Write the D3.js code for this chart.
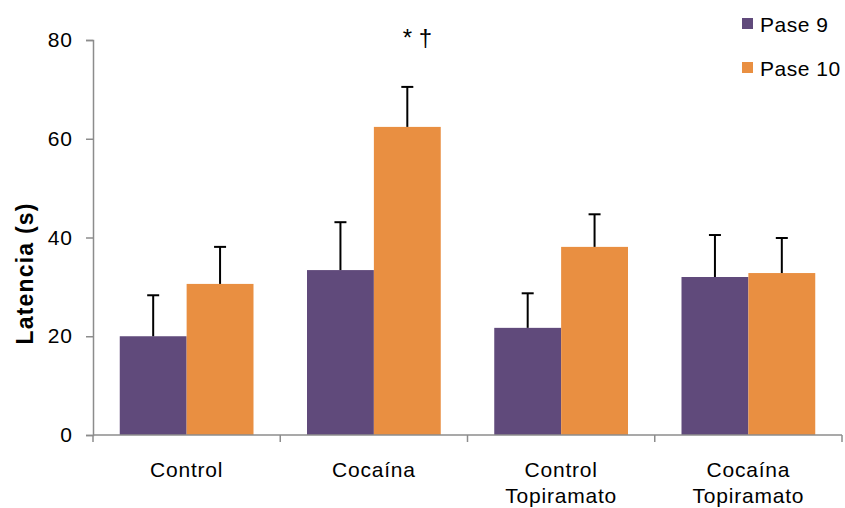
<!DOCTYPE html>
<html>
<head>
<meta charset="utf-8">
<script src="https://cdn.jsdelivr.net/npm/d3@7"></script>
<style>
  body { margin: 0; background: #fff; }
  text { font-family: "Liberation Sans", Arial, sans-serif; }
</style>
</head>
<body>
<div id="chart"></div>
<script>
const categories = [['Control'], ['Cocaína'], ['Control', 'Topiramato'], ['Cocaína', 'Topiramato']];
const seriesNames = ['Pase 9', 'Pase 10'];
const pase9 = [20.0, 33.4, 21.7, 32.0];
const pase9Err = [8.3, 9.7, 7.0, 8.5];
const pase10 = [30.6, 62.4, 38.1, 32.8];
const pase10Err = [7.5, 8.1, 6.6, 7.1];
const yTicks = [0, 20, 40, 60, 80];
const colors = ['#604a7b', '#e98f41'];

const width = 845, height = 508;
const margin = { top: 40, right: 3, bottom: 73, left: 93 };
const innerW = width - margin.left - margin.right;
const innerH = height - margin.top - margin.bottom;

const svg = d3.select('#chart').append('svg')
  .attr('width', width).attr('height', height);
const g = svg.append('g').attr('transform', `translate(${margin.left},${margin.top})`);

const keys = categories.map((c, i) => i);
const x = d3.scaleBand().domain(keys).range([0, innerW]);
const x1 = d3.scaleBand().domain([0, 1]).range([0, x.bandwidth()]).paddingOuter(0.4).paddingInner(0);
const y = d3.scaleLinear().domain([0, 80]).range([innerH, 0]);

const rows = [];
keys.forEach(i => {
  rows.push({ cat: i, s: 0, v: pase9[i], e: pase9Err[i] });
  rows.push({ cat: i, s: 1, v: pase10[i], e: pase10Err[i] });
});

// bars
g.selectAll('rect.bar').data(rows).enter().append('rect')
  .attr('class', 'bar')
  .attr('x', d => x(d.cat) + x1(d.s))
  .attr('y', d => y(d.v))
  .attr('width', x1.bandwidth())
  .attr('height', d => innerH - y(d.v))
  .attr('fill', d => colors[d.s]);

// error bars
const eb = g.selectAll('g.err').data(rows).enter().append('g').attr('class', 'err')
  .attr('stroke', '#000').attr('stroke-width', 2);
eb.append('line')
  .attr('x1', d => x(d.cat) + x1(d.s) + x1.bandwidth() / 2)
  .attr('x2', d => x(d.cat) + x1(d.s) + x1.bandwidth() / 2)
  .attr('y1', d => y(d.v)).attr('y2', d => y(d.v + d.e));
eb.append('line')
  .attr('x1', d => x(d.cat) + x1(d.s) + x1.bandwidth() / 2 - 6)
  .attr('x2', d => x(d.cat) + x1(d.s) + x1.bandwidth() / 2 + 6)
  .attr('y1', d => y(d.v + d.e)).attr('y2', d => y(d.v + d.e));

// y axis
const yAxis = g.append('g')
  .call(d3.axisLeft(y).tickValues(yTicks).tickSize(7).tickPadding(13));
yAxis.select('.domain').attr('stroke', '#8c8c8c').attr('stroke-width', 1.5);
yAxis.selectAll('.tick line').attr('stroke', '#8c8c8c').attr('stroke-width', 1.5);
yAxis.selectAll('.tick text').attr('font-size', 21).attr('letter-spacing', 1).attr('fill', '#000');

// x axis
const xAxis = g.append('g').attr('transform', `translate(0,${innerH})`);
xAxis.append('line').attr('x1', 0).attr('x2', innerW).attr('y1', 0).attr('y2', 0)
  .attr('stroke', '#8c8c8c').attr('stroke-width', 1.5);
xAxis.selectAll('line.tk').data(keys.concat([keys.length])).enter().append('line')
  .attr('class', 'tk')
  .attr('x1', d => d < keys.length ? x(d) : innerW)
  .attr('x2', d => d < keys.length ? x(d) : innerW)
  .attr('y1', 0).attr('y2', 7)
  .attr('stroke', '#8c8c8c').attr('stroke-width', 1.5);
const xl = xAxis.selectAll('text.cat').data(keys).enter().append('text')
  .attr('class', 'cat')
  .attr('x', d => x(d) + x.bandwidth() / 2)
  .attr('y', 42)
  .attr('text-anchor', 'middle')
  .attr('font-size', 21)
  .attr('letter-spacing', 0.8);
xl.selectAll('tspan').data(d => categories[d]).enter().append('tspan')
  .attr('x', function () { return d3.select(this.parentNode).attr('x'); })
  .attr('dy', (d, i) => i === 0 ? 0 : 26)
  .text(d => d);

// y label
svg.append('text')
  .attr('transform', `translate(33,${margin.top + innerH / 2 + 36}) rotate(-90)`)
  .attr('text-anchor', 'middle')
  .attr('font-size', 23).attr('font-weight', 'bold')
  .attr('letter-spacing', 1.2)
  .text('Latencia (s)');

// significance marker
g.append('text')
  .attr('x', x(1) + x1(1) + x1.bandwidth() / 2 + 10)
  .attr('y', 6)
  .attr('text-anchor', 'middle')
  .attr('font-size', 24)
  .text('* †');

// legend
const leg = svg.append('g').attr('transform', 'translate(742,14)');
seriesNames.forEach((n, i) => {
  const r = leg.append('g').attr('transform', `translate(0,${i * 44})`);
  r.append('rect').attr('width', 11).attr('height', 11).attr('y', 4).attr('fill', colors[i]);
  r.append('text').attr('x', 18).attr('y', 18).attr('font-size', 21).attr('letter-spacing', 0.5).text(n);
});
</script>
</body>
</html>
